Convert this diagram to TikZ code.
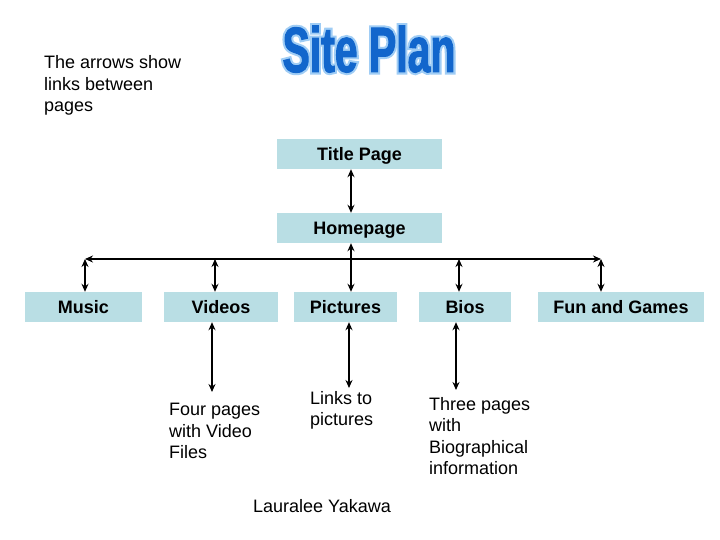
\documentclass[tikz,border=0pt]{standalone}
\usepackage{fontspec}
\setmainfont{Liberation Sans}
\newfontfamily\glowfont[FakeBold=8,FakeStretch=0.64]{Liberation Sans Bold}
\newfontfamily\titlefont[FakeBold=1.5,FakeStretch=0.64]{Liberation Sans Bold}
\usetikzlibrary{arrows.meta}
\definecolor{boxfill}{RGB}{185,222,228}
\definecolor{titleblue}{RGB}{18,102,204}
\definecolor{titleglow}{RGB}{160,205,245}
\tikzset{
 pagebox/.style={fill=boxfill, minimum height=30pt, inner sep=0pt, text height=12.9pt, text depth=0pt, font=\fontsize{18}{20}\selectfont\bfseries},
 link/.style={line width=1.8pt, {Stealth[length=8pt,width=7pt]}-{Stealth[length=8pt,width=7pt]}},
 note/.style={align=left, inner sep=0pt, font=\fontsize{18}{21.5}\selectfont, anchor=base west},
 titletext/.style={anchor=base, inner sep=0pt},
}
\begin{document}
\begin{tikzpicture}[x=1pt,y=-1pt]
\useasboundingbox (0,0) rectangle (720,540);
\fill[white] (0,0) rectangle (720,540);
% title with light outline
\node[titletext, text=titleglow] (glow) at (369,72) {\glowfont\fontsize{64}{64}\selectfont Site Plan};
\node[titletext, text=titleblue] (title) at (369,72) {\titlefont\fontsize{64}{64}\selectfont Site Plan};

% boxes
\node[pagebox, minimum width=165pt] (titlepage) at (359.5,154) {Title Page};
\node[pagebox, minimum width=165pt] (home) at (359.5,228) {Homepage};
\node[pagebox, minimum width=117pt] (music) at (83.5,307) {Music};
\node[pagebox, minimum width=114pt] (videos) at (221,307) {Videos};
\node[pagebox, minimum width=103pt] (pictures) at (345.5,307) {Pictures};
\node[pagebox, minimum width=92pt] (bios) at (465,307) {Bios};
\node[pagebox, minimum width=166pt] (fun) at (621,307) {Fun and Games};

% texts (anchored at the baseline of their last line)
\node[note] (arrowsnote) at (44,112) {The arrows show\\links between\\pages};
\node[note] (videonote) at (169,458.5) {Four pages\\with Video\\Files};
\node[note] (picnote) at (310,425.5) {Links to\\pictures};
\node[note] (bionote) at (429,474.5) {Three pages\\with\\Biographical\\information};
\node[note] (author) at (253,512) {Lauralee Yakawa};

% connectors
\coordinate (hubx) at (351,259);
\coordinate (lineL) at (85,259);
\coordinate (lineR) at (601,259);
\coordinate (vidx) at (215,259);
\coordinate (biox) at (459,259);
\coordinate (vidend) at (212,392);
\coordinate (picend) at (349,388);
\coordinate (bioend) at (456,390);

\draw[link] (titlepage.south -| hubx) -- (home.north -| hubx);
\draw[link] (home.south -| hubx) -- (pictures.north -| hubx);
\draw[link] (lineL) -- (lineR);
\draw[link] (lineL) -- (music.north -| lineL);
\draw[link] (vidx) -- (videos.north -| vidx);
\draw[link] (biox) -- (bios.north -| biox);
\draw[link] (lineR) -- (fun.north -| lineR);
\draw[link] (videos.south -| vidend) -- (vidend);
\draw[link] (pictures.south -| picend) -- (picend);
\draw[link] (bios.south -| bioend) -- (bioend);
\end{tikzpicture}
\end{document}
